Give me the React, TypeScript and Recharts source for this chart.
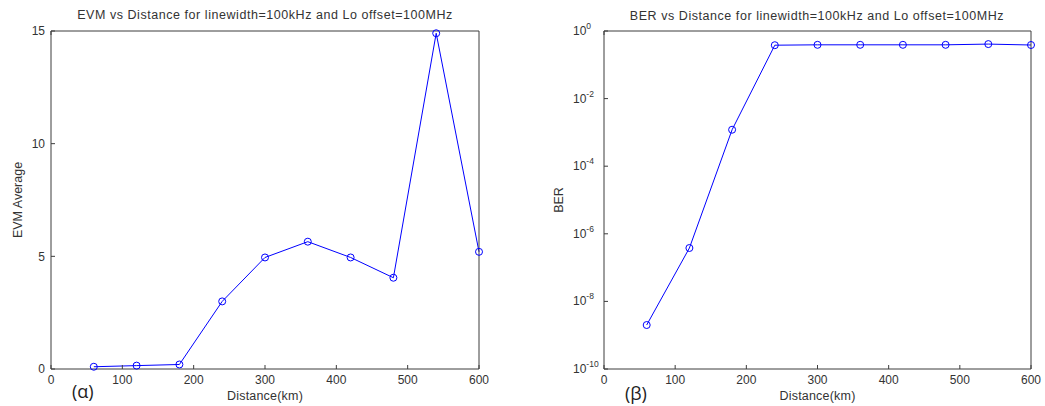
import React from 'react';
import { LineChart, Line, XAxis, YAxis, Label } from 'recharts';

// values
const distanceKm = [60, 120, 180, 240, 300, 360, 420, 480, 540, 600];
const evmAverage = [0.1, 0.15, 0.2, 3.0, 4.95, 5.65, 4.95, 4.05, 14.9, 5.2];
const berValues = [2e-9, 3.8e-7, 1.2e-3, 0.38, 0.39, 0.39, 0.39, 0.39, 0.41, 0.385];

const distanceTicks = [0, 100, 200, 300, 400, 500, 600];
const evmTicks = [0, 5, 10, 15];
const berTicks = [1e-10, 1e-8, 1e-6, 1e-4, 1e-2, 1];

const evmData = distanceKm.map((d, i) => ({ distance: d, evm: evmAverage[i] }));
const berData = distanceKm.map((d, i) => ({ distance: d, ber: berValues[i] }));

const FONT = 'Arial, "Liberation Sans", sans-serif';
const INK = '#333333';
const FRAME = '#3c3c3c';
const BLUE = '#0000ff';
const TXT = 12.5;

const tickStyle = { fill: INK, fontSize: 12, fontFamily: FONT };

const BerTick = (props: any) => {
  const { x, y, payload } = props;
  const exp = Math.round(Math.log10(payload.value));
  return (
    <text x={x} y={y} dy={4} fill={INK} fontSize={12} fontFamily={FONT} textAnchor="start">
      10
      <tspan dy={-6} fontSize={8.5}>
        {exp}
      </tspan>
    </text>
  );
};

const blank = () => '';

const dotStyle = { r: 3.5, stroke: BLUE, strokeWidth: 1, fill: 'none' };

const App: React.FC = () => {
  return (
    <div
      style={{
        position: 'absolute',
        left: 0,
        top: 0,
        width: 1045,
        height: 406,
        background: '#fff',
      }}
    >
      {/* (α) EVM vs distance */}
      <div style={{ position: 'absolute', left: 0, top: 0 }}>
        <LineChart
          width={520}
          height={406}
          data={evmData}
          margin={{ top: 0, right: 31, bottom: 0, left: 21 }}
        >
          <XAxis
            dataKey="distance"
            type="number"
            domain={[0, 600]}
            ticks={distanceTicks}
            interval={0}
            height={37}
            stroke={FRAME}
            tickSize={-4}
            tickMargin={10}
            tick={tickStyle}
          >
            <Label
              content={(p: any) => (
                <g>
                  <text
                    x={p.viewBox.x + p.viewBox.width / 2}
                    y={p.viewBox.y + 31}
                    textAnchor="middle"
                    fill={INK}
                    fontSize={TXT}
                    fontFamily={FONT}
                    letterSpacing={0.2}
                  >
                    Distance(km)
                  </text>
                  <text
                    x={p.viewBox.x + 21}
                    y={p.viewBox.y + 29}
                    fill="#222"
                    fontSize={18}
                    fontFamily='"Open Sans", "Noto Sans", sans-serif'
                  >
                    (α)
                  </text>
                </g>
              )}
            />
          </XAxis>
          <XAxis
            xAxisId="top"
            orientation="top"
            type="number"
            domain={[0, 600]}
            ticks={distanceTicks}
            interval={0}
            height={31}
            stroke={FRAME}
            tickSize={-4}
            tickFormatter={blank}
          />
          <YAxis
            type="number"
            domain={[0, 15]}
            ticks={evmTicks}
            interval={0}
            width={30}
            stroke={FRAME}
            tickSize={-4}
            tickMargin={10}
            tick={tickStyle}
          >
            <Label
              content={(p: any) => (
                <g>
                  <text
                    x={0}
                    y={0}
                    transform={`translate(${p.viewBox.x + 1}, ${p.viewBox.y + p.viewBox.height / 2}) rotate(-90)`}
                    textAnchor="middle"
                    fill={INK}
                    fontSize={TXT}
                    fontFamily={FONT}
                  >
                    EVM Average
                  </text>
                  <text
                    x={p.viewBox.x + p.viewBox.width + 214}
                    y={p.viewBox.y - 12}
                    textAnchor="middle"
                    fill={INK}
                    fontSize={TXT}
                    fontFamily={FONT}
                    letterSpacing={0.55}
                  >
                    EVM vs Distance for linewidth=100kHz and Lo offset=100MHz
                  </text>
                </g>
              )}
            />
          </YAxis>
          <YAxis
            yAxisId="right"
            orientation="right"
            type="number"
            domain={[0, 15]}
            ticks={evmTicks}
            interval={0}
            width={10}
            stroke={FRAME}
            tickSize={-4}
            tickFormatter={blank}
          />
          <Line
            dataKey="evm"
            stroke={BLUE}
            strokeWidth={1}
            dot={dotStyle}
            activeDot={false}
            isAnimationActive={false}
          />
        </LineChart>
      </div>

      {/* (β) BER vs distance */}
      <div style={{ position: 'absolute', left: 520, top: 0 }}>
        <LineChart
          width={525}
          height={406}
          data={berData}
          margin={{ top: 0, right: 4, bottom: 0, left: 14 }}
        >
          <XAxis
            dataKey="distance"
            type="number"
            domain={[0, 600]}
            ticks={distanceTicks}
            interval={0}
            height={37}
            stroke={FRAME}
            tickSize={-4}
            tickMargin={10}
            tick={tickStyle}
          >
            <Label
              content={(p: any) => (
                <g>
                  <text
                    x={p.viewBox.x + p.viewBox.width / 2}
                    y={p.viewBox.y + 31}
                    textAnchor="middle"
                    fill={INK}
                    fontSize={TXT}
                    fontFamily={FONT}
                    letterSpacing={0.2}
                  >
                    Distance(km)
                  </text>
                  <text
                    x={p.viewBox.x + 21}
                    y={p.viewBox.y + 31}
                    fill="#222"
                    fontSize={18}
                    fontFamily='"Open Sans", "Noto Sans", sans-serif'
                  >
                    (β)
                  </text>
                </g>
              )}
            />
          </XAxis>
          <XAxis
            xAxisId="top"
            orientation="top"
            type="number"
            domain={[0, 600]}
            ticks={distanceTicks}
            interval={0}
            height={31}
            stroke={FRAME}
            tickSize={-4}
            tickFormatter={blank}
          />
          <YAxis
            type="number"
            scale="log"
            domain={[1e-10, 1]}
            ticks={berTicks}
            interval={0}
            width={70}
            stroke={FRAME}
            tickSize={-4}
            tickMargin={35}
            tick={<BerTick />}
          >
            <Label
              content={(p: any) => (
                <g>
                  <text
                    x={0}
                    y={0}
                    transform={`translate(${p.viewBox.x + 29}, ${p.viewBox.y + p.viewBox.height / 2}) rotate(-90)`}
                    textAnchor="middle"
                    fill={INK}
                    fontSize={TXT}
                    fontFamily={FONT}
                  >
                    BER
                  </text>
                  <text
                    x={p.viewBox.x + p.viewBox.width + 213}
                    y={p.viewBox.y - 11}
                    textAnchor="middle"
                    fill={INK}
                    fontSize={TXT}
                    fontFamily={FONT}
                    letterSpacing={0.55}
                  >
                    BER vs Distance for linewidth=100kHz and Lo offset=100MHz
                  </text>
                </g>
              )}
            />
          </YAxis>
          <YAxis
            yAxisId="right"
            orientation="right"
            type="number"
            scale="log"
            domain={[1e-10, 1]}
            ticks={berTicks}
            interval={0}
            width={10}
            stroke={FRAME}
            tickSize={-4}
            tickFormatter={blank}
          />
          <Line
            dataKey="ber"
            stroke={BLUE}
            strokeWidth={1}
            dot={dotStyle}
            activeDot={false}
            isAnimationActive={false}
          />
        </LineChart>
      </div>
    </div>
  );
};

export default App;
